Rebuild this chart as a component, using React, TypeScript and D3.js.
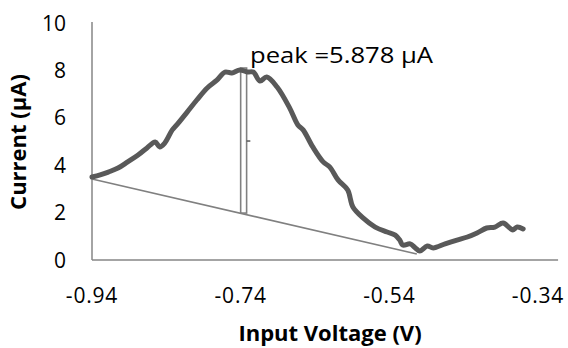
import React from "react";
import * as d3 from "d3";

const voltage = [
  -0.94, -0.929, -0.918, -0.905, -0.892, -0.878, -0.866, -0.855, -0.849, -0.842,
  -0.832, -0.826, -0.812, -0.799, -0.785, -0.772, -0.761, -0.752, -0.741, -0.731,
  -0.723, -0.714, -0.705, -0.691, -0.674, -0.663, -0.656, -0.643, -0.629, -0.62,
  -0.609, -0.596, -0.589, -0.575, -0.559, -0.543, -0.532, -0.526, -0.522, -0.512,
  -0.505, -0.499, -0.489, -0.481, -0.465, -0.449, -0.435, -0.422, -0.409, -0.398,
  -0.387, -0.378, -0.374, -0.368, -0.36,
];
const current = [
  3.5, 3.59, 3.71, 3.88, 4.14, 4.43, 4.73, 4.98, 4.77, 4.94,
  5.49, 5.7, 6.24, 6.75, 7.26, 7.59, 7.93, 7.89, 8.02, 7.93,
  7.93, 7.55, 7.72, 7.3, 6.41, 5.7, 5.49, 4.77, 4.14, 3.92,
  3.38, 2.95, 2.24, 1.77, 1.39, 1.18, 1.05, 0.84, 0.63, 0.68,
  0.51, 0.38, 0.59, 0.51, 0.68, 0.84, 0.97, 1.14, 1.35, 1.39,
  1.56, 1.35, 1.27, 1.39, 1.31,
];

const baselineX = [-0.94, -0.503];
const baselineY = [3.42, 0.25];

const peakBarX = [-0.74, -0.732];
const peakBarY = [1.98, 8.1];
const peakTickY = 5.02;
const peakTickX = [-0.732, -0.727];

const xTicks = [-0.94, -0.74, -0.54, -0.34];
const xTickLabels = ["-0.94", "-0.74", "-0.54", "-0.34"];
const yTicks = [0, 2, 4, 6, 8, 10];
const xAxisEnd = -0.313;

const annotation = "peak =5.878 µA";
const xTitle = "Input Voltage (V)";
const yTitle = "Current (µA)";

const W = 568;
const H = 348;

export default function App() {
  const x = d3.scaleLinear().domain([-0.94, -0.34]).range([92, 538]);
  const y = d3.scaleLinear().domain([0, 10]).range([260, 23]);

  const pts: [number, number][] = voltage.map((v, i) => [v, current[i]]);
  const line = d3
    .line<[number, number]>()
    .x((d) => x(d[0]))
    .y((d) => y(d[1]))
    .curve(d3.curveCatmullRom.alpha(0.5));

  const font = "'Open Sans', sans-serif";
  const axisColor = "#868686";

  return (
    <svg
      width={W}
      height={H}
      style={{ position: "absolute", left: 0, top: 0, background: "#fff" }}
      fontFamily={font}
    >
      {/* axes */}
      <line x1={x(-0.94)} x2={x(-0.94)} y1={y(10) - 1} y2={y(0)} stroke={axisColor} strokeWidth={1.5} />
      <line x1={x(-0.94)} x2={x(xAxisEnd)} y1={y(0)} y2={y(0)} stroke={axisColor} strokeWidth={1.5} />

      {/* y tick labels */}
      {yTicks.map((t) => (
        <text key={t} x={66} y={y(t)} dy="0.36em" textAnchor="end" fontSize={21} fill="#000">
          {t}
        </text>
      ))}
      {/* x tick labels */}
      {xTicks.map((t, i) => (
        <text key={t} x={x(t)} y={303} textAnchor="middle" fontSize={21} fill="#000" letterSpacing={0.8}>
          {xTickLabels[i]}
        </text>
      ))}

      {/* baseline */}
      <line
        x1={x(baselineX[0])}
        y1={y(baselineY[0])}
        x2={x(baselineX[1])}
        y2={y(baselineY[1])}
        stroke="#808080"
        strokeWidth={1.6}
      />

      {/* peak marker */}
      <rect
        x={x(peakBarX[0])}
        y={y(peakBarY[1])}
        width={x(peakBarX[1]) - x(peakBarX[0])}
        height={y(peakBarY[0]) - y(peakBarY[1])}
        fill="none"
        stroke="#808080"
        strokeWidth={1.6}
      />
      <line
        x1={x(peakTickX[0])}
        x2={x(peakTickX[1])}
        y1={y(peakTickY)}
        y2={y(peakTickY)}
        stroke="#595959"
        strokeWidth={1.5}
      />

      {/* curve */}
      <path
        d={line(pts) || ""}
        fill="none"
        stroke="#595959"
        strokeWidth={5}
        strokeLinejoin="round"
        strokeLinecap="round"
      />

      {/* annotation */}
      <text x={250} y={63} fontSize={21} fill="#000" textLength={183} lengthAdjust="spacingAndGlyphs">
        {annotation}
      </text>

      {/* titles */}
      <text x={330} y={341} textAnchor="middle" fontSize={22} fontWeight="bold" fill="#000">
        {xTitle}
      </text>
      <text
        transform={`translate(26,142) rotate(-90)`}
        textAnchor="middle"
        fontSize={22}
        fontWeight="bold"
        fill="#000"
      >
        {yTitle}
      </text>
    </svg>
  );
}
